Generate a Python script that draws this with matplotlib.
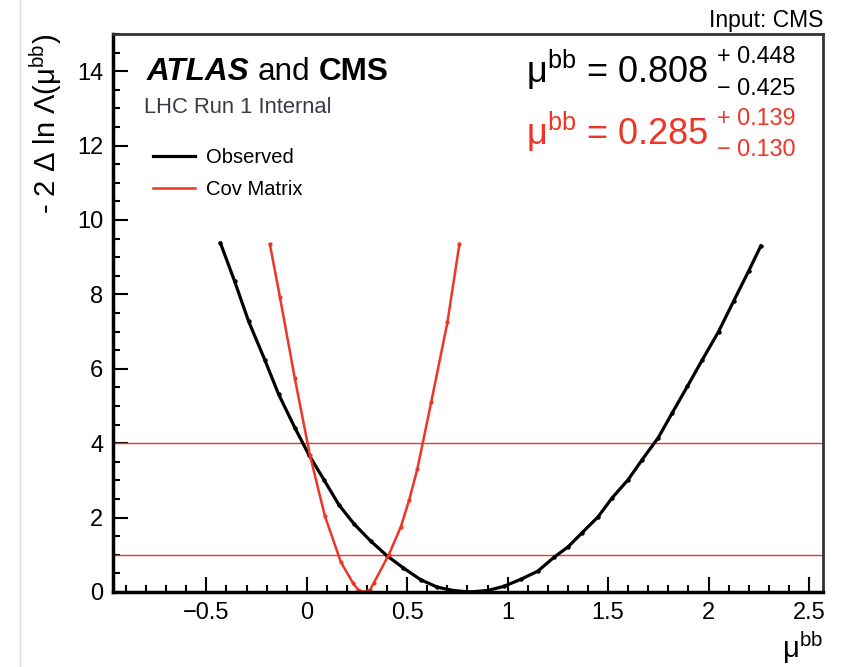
import matplotlib
matplotlib.use('Agg')
import matplotlib.pyplot as plt
from matplotlib.ticker import MultipleLocator, FuncFormatter
from matplotlib.lines import Line2D

plt.rcParams['font.family'] = 'Liberation Sans'
plt.rcParams['mathtext.fontset'] = 'custom'
plt.rcParams['mathtext.rm'] = 'Liberation Sans'
plt.rcParams['mathtext.it'] = 'Liberation Sans:italic'
plt.rcParams['mathtext.bf'] = 'Liberation Sans:bold'

# observed likelihood scan
mu_obs = [-0.43, -0.36, -0.29, -0.21, -0.14, -0.06, 0.01, 0.085, 0.16, 0.235,
          0.318, 0.40, 0.48, 0.567, 0.65, 0.73, 0.81, 0.90, 0.98, 1.065,
          1.15, 1.23, 1.30, 1.37, 1.45, 1.52, 1.60, 1.67, 1.75, 1.82,
          1.895, 1.97, 2.05, 2.125, 2.20, 2.26]
nll_obs = [9.38, 8.36, 7.28, 6.25, 5.31, 4.42, 3.69, 3.02, 2.34, 1.83,
           1.37, 0.97, 0.65, 0.33, 0.13, 0.04, 0.0, 0.04, 0.15, 0.34,
           0.56, 0.93, 1.21, 1.59, 2.02, 2.53, 3.02, 3.56, 4.15, 4.82,
           5.53, 6.25, 7.0, 7.82, 8.63, 9.30]

# covariance matrix approximation
mu_cov = [-0.184, -0.134, -0.06, 0.015, 0.09, 0.17, 0.23, 0.255, 0.285,
          0.315, 0.333, 0.408, 0.468, 0.51, 0.55, 0.62, 0.70, 0.76]
nll_cov = [9.35, 7.93, 5.75, 3.69, 2.04, 0.80, 0.24, 0.06, 0.0,
           0.06, 0.24, 1.0, 1.75, 2.48, 3.30, 5.12, 7.25, 9.36]

levels = [1, 4]
red = '#ee3526'

fig = plt.figure(figsize=(8.48, 6.67), dpi=100)
fig.add_artist(Line2D([20 / 848., 20 / 848.], [0, 1], color='#dcdcdc', lw=1))
ax = fig.add_axes([113 / 848., 1 - 592 / 667., 710 / 848., 558 / 667.])

for lev in levels:
    ax.axhline(lev, color=red, lw=1.0)
ax.plot(mu_obs, nll_obs, color='black', lw=2.3, marker='o', ms=2.2)
ax.plot(mu_cov, nll_cov, color=red, lw=1.8, marker='o', ms=2.0)

ax.set_xlim(-0.965, 2.57)
ax.set_ylim(0, 15)

ax.xaxis.set_major_locator(MultipleLocator(0.5))
ax.xaxis.set_minor_locator(MultipleLocator(0.1))
ax.yaxis.set_major_locator(MultipleLocator(2))
ax.yaxis.set_minor_locator(MultipleLocator(0.5))
fmt = FuncFormatter(lambda v, pos: ('%g' % v).replace('-', '\u2212'))
ax.xaxis.set_major_formatter(fmt)
ax.yaxis.set_major_formatter(fmt)
ax.tick_params(which='both', direction='in', top=False, right=False,
               width=1.5, labelsize=17)
ax.tick_params(which='major', length=11, pad=7)
ax.tick_params(which='minor', length=5)
for s in ['left', 'bottom']:
    ax.spines[s].set_linewidth(2.5)
for s in ['top', 'right']:
    ax.spines[s].set_linewidth(2.0)
    ax.spines[s].set_color('#333333')

ax.set_ylabel(r'- 2 $\Delta$ ln $\Lambda$($\mathrm{\mu^{bb}}$)', fontsize=21, loc='top')
ax.yaxis.set_label_coords(-0.069, 1.0)
ax.set_xlabel(r'$\mathrm{\mu^{bb}}$', fontsize=21, loc='right', labelpad=4)

handles = [Line2D([], [], color='black', lw=2.3), Line2D([], [], color=red, lw=1.8)]
ax.legend(handles, ['Observed', 'Cov Matrix'], loc='upper left',
          bbox_to_anchor=(0.045, 0.81), frameon=False, fontsize=14.5,
          handlelength=2.1, labelspacing=0.62, borderaxespad=0,
          handletextpad=0.55)

t1 = ax.text(0.048, 0.918, 'ATLAS', transform=ax.transAxes, fontsize=22.7,
             fontweight='bold', fontstyle='italic')
t2 = ax.annotate('and', xy=(1, 0), xycoords=t1, xytext=(6, 0),
                 textcoords='offset points', fontsize=22.7, va='bottom')
ax.annotate('CMS', xy=(1, 0), xycoords=t2, xytext=(6, 0),
            textcoords='offset points', fontsize=22.7, va='bottom', fontweight='bold')
ax.text(0.044, 0.858, 'LHC Run 1 Internal', transform=ax.transAxes, fontsize=15.8,
        color='#3a3a48')

ax.text(1.0, 1.004, 'Input: CMS', transform=ax.transAxes, fontsize=16.5,
        ha='right', va='bottom')

for txt, up, dn, col, yb in [('0.808', '+ 0.448', '\u2212 0.425', 'black', 0.912),
                             ('0.285', '+ 0.139', '\u2212 0.130', red, 0.802)]:
    ax.text(0.838, yb, r'$\mathrm{\mu}^{\mathrm{bb}}$ = ' + txt, transform=ax.transAxes,
            fontsize=26, color=col, ha='right', va='baseline')
    ax.text(0.851, yb + 0.047, up, transform=ax.transAxes, fontsize=16.8,
            color=col, ha='left', va='center')
    ax.text(0.851, yb - 0.009, dn, transform=ax.transAxes, fontsize=16.8,
            color=col, ha='left', va='center')

fig.savefig('out.png', dpi=100)
